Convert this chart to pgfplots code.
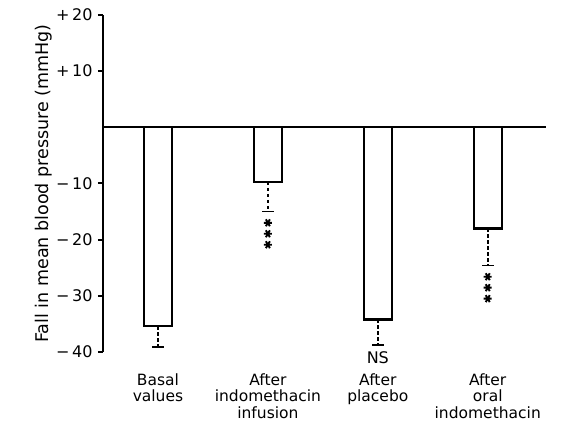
\documentclass[border=0pt]{standalone}
\usepackage{pgfplots}
\pgfplotsset{compat=1.18}
\usepackage{fontspec}
\setmainfont{DejaVu Sans}
\begin{document}
\begin{tikzpicture}
\begin{axis}[
  scale only axis, width=443pt, height=337pt,
  xmin=-0.5, xmax=3.53, ymin=-40, ymax=20,
  axis y line*=left, axis x line*=bottom,
  x axis line style={draw=none},
  y axis line style={line width=2.2pt},
  ytick={-40,-30,-20,-10,10,20},
  yticklabels={−\,40,−\,30,−\,20,−\,10,+\,10,+\,20},
  ytick style={line width=2pt, black},
  tick align=outside, major tick length=5pt,
  yticklabel style={font=\fontsize{16}{16}\selectfont, xshift=-2pt},
  xtick={0,1,2,3}, xtick style={draw=none},
  xticklabels={Basal\\values, After\\indomethacin\\infusion, After\\placebo, After\\oral\\indomethacin},
  xticklabel style={align=center, anchor=north, yshift=-13pt, font=\fontsize{15.5}{16.5}\selectfont},
  ylabel={Fall in mean blood pressure (mmHg)},
  ylabel style={font=\fontsize{17.5}{17.5}\selectfont, yshift=-3pt},
  clip=false,
]
\addplot[line width=2pt] coordinates {(-0.5,0) (3.53,0)};
\addplot[ybar, bar width=28pt, draw=black, fill=white, line width=2.2pt,
  error bars/.cd, y dir=minus, y explicit,
  error bar style={line width=1.6pt, dash pattern=on 3.5pt off 2.5pt},
  error mark=|,
  error mark options={solid, line width=1.8pt, mark size=6pt}]
coordinates {(0,-35.4) -= (0,3.65) (1,-9.7) -= (0,5.3) (2,-34.2) -= (0,4.6) (3,-18.0) -= (0,6.6)};
\addplot[only marks, mark=asterisk, mark size=4pt, line width=1.9pt, mark options={rotate=90}]
coordinates {(1,-17.0) (1,-18.95) (1,-20.9) (3,-26.6) (3,-28.55) (3,-30.5)};
\node[font=\fontsize{16}{16}\selectfont] at (axis cs:2,-41.1) {NS};
\coordinate (tl) at ([xshift=-103pt,yshift=15pt]rel axis cs:0,1);
\coordinate (br) at ([xshift=16pt,yshift=-77pt]rel axis cs:1,0);
\end{axis}
\pgfresetboundingbox
\path (tl) rectangle (br);
\end{tikzpicture}
\end{document}
